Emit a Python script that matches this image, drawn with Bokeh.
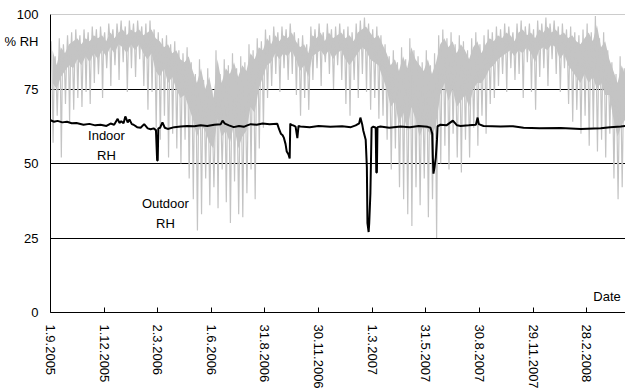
import numpy as np
from bokeh.plotting import figure
from bokeh.models import Range1d, FixedTicker, Label, Span
from bokeh.embed import file_html
from bokeh.resources import INLINE

# x axis: days since 1.9.2005
TICK_DAYS = [0, 91, 182, 273, 364, 455, 546, 637, 728, 819, 910]
TICK_LABELS = ["1.9.2005", "1.12.2005", "2.3.2006", "1.6.2006", "31.8.2006",
               "30.11.2006", "1.3.2007", "31.5.2007", "30.8.2007",
               "29.11.2007", "28.2.2008"]
Y_TICKS = [0, 25, 50, 75, 100]
Y_UNIT_POS = 91
Y_UNIT = "% RH"

# Outdoor RH: weekly highs, typical levels and lows (week 0 starts 1.9.2005)
OUT_HIGH = [91, 86, 92, 90, 93, 94, 95, 93, 95, 94,
            96, 95, 96, 94, 97, 95, 97, 98, 96, 98,
            97, 98, 96, 97, 98, 95, 94, 92, 93, 90,
            91, 88, 87, 89, 84, 80, 85, 78, 82, 75,
            88, 80, 85, 83, 87, 82, 86, 84, 90, 88,
            92, 91, 95, 93, 96, 94, 96, 95, 97, 94,
            92, 93, 90, 96, 95, 97, 94, 97, 95, 96,
            97, 95, 96, 94, 97, 98, 99, 97, 95, 96,
            93, 90, 86, 88, 84, 89, 85, 92, 88, 86,
            84, 88, 83, 87, 93, 95, 92, 94, 90, 93,
            91, 88, 92, 94, 90, 93, 95, 94, 96, 95,
            97, 96, 94, 97, 98, 96, 97, 95, 98, 97,
            99, 97, 98, 96, 97, 95, 96, 94, 93, 95,
            97, 94, 99.5, 92, 94, 88, 84, 80, 86, 82]
OUT_MID = [80, 78, 82, 84, 86, 85, 88, 86, 89, 87,
           90, 88, 91, 89, 92, 90, 93, 92, 90, 93,
           91, 93, 90, 88, 90, 84, 82, 85, 80, 82,
           78, 75, 76, 72, 68, 62, 66, 64, 60, 58,
           68, 62, 64, 60, 66, 58, 62, 64, 72, 70,
           78, 82, 86, 87, 90, 88, 90, 89, 91, 88,
           84, 86, 82, 89, 90, 91, 89, 91, 88, 90,
           91, 88, 86, 88, 90, 92, 91, 88, 87, 86,
           82, 78, 72, 74, 66, 70, 64, 72, 68, 62,
           66, 64, 62, 66, 76, 80, 74, 78, 72, 74,
           76, 72, 78, 80, 80, 82, 85, 86, 88, 89,
           90, 91, 89, 91, 90, 92, 90, 87, 91, 92,
           91, 93, 92, 88, 90, 86, 84, 82, 80, 83,
           80, 82, 78, 80, 76, 76, 68, 62, 66, 68]
OUT_LOW = [57, 66, 52, 70, 64, 68, 72, 69, 74, 70,
           77, 80, 72, 82, 76, 83, 78, 84, 74, 82,
           79, 85, 76, 68, 74, 62, 58, 66, 52, 60,
           55, 50, 58, 45, 38, 27.5, 33, 45, 36, 42,
           35, 48, 37, 30, 44, 33, 32, 40, 48, 38,
           55, 62, 72, 76, 80, 74, 82, 78, 80, 73,
           66, 72, 68, 78, 82, 76, 84, 80, 75, 83,
           78, 70, 66, 78, 72, 80, 74, 68, 72, 65,
           66, 58, 48, 55, 42, 38, 33, 29, 42, 36,
           45, 32, 38, 25, 50, 56, 48, 60, 52, 47,
           58, 52, 62, 56, 66, 60, 70, 72, 76, 80,
           74, 82, 78, 80, 72, 84, 74, 68, 79, 82,
           76, 85, 80, 74, 82, 70, 64, 68, 60, 66,
           56, 62, 54, 58, 52, 60, 45, 38, 42, 50]

# Indoor RH
IN_DAY = [0, 6, 12, 20, 28, 36, 44, 56, 66, 76, 85, 95, 102, 108, 114, 117, 120,
          124, 127, 131, 134, 138, 141, 147, 153, 159, 165, 170, 175, 179, 181,
          182, 183, 186, 190, 194, 199, 210, 221, 232, 244, 255, 266, 278, 289,
          292, 296, 303, 311, 320, 328, 334, 340, 350, 360, 372, 385, 388, 391,
          394, 396, 399, 401, 404, 406, 407, 408, 412, 416, 419, 421, 424, 440,
          455, 475, 495, 510, 518, 524, 526, 529, 531, 535, 537, 538, 540, 541,
          543, 545, 548, 552, 553, 554, 555, 560, 575, 594, 610, 625, 640, 645,
          648, 649, 650, 652, 654, 656, 657, 662, 672, 683, 690, 696, 710, 722,
          725, 727, 735, 764, 785, 803, 830, 866, 900, 934, 950, 968, 976]
IN_RH = [64.5, 64.0, 64.3, 63.8, 64.0, 63.5, 63.6, 63.0, 63.3, 62.8, 63.0, 62.6,
         63.4, 63.0, 65.0, 63.6, 64.2, 63.5, 65.8, 63.8, 64.8, 63.2, 63.0, 62.2,
         62.0, 63.2, 61.8, 61.5, 61.8, 61.2, 51.0, 51.0, 61.8, 62.0, 63.8, 62.0,
         61.6, 62.2, 62.4, 62.6, 62.5, 62.8, 62.6, 63.0, 63.2, 64.4, 63.4, 62.8,
         62.2, 62.6, 62.3, 62.8, 63.2, 63.0, 63.4, 63.2, 63.3, 61.5, 60.0, 59.5,
         58.7, 56.5, 54.0, 53.0, 51.7, 63.4, 63.0, 62.8, 62.4, 58.5, 62.6, 62.4,
         62.2, 62.6, 62.3, 62.5, 62.2, 62.8, 63.5, 65.4, 63.2, 61.0, 58.0, 48.7,
         30.0, 27.0, 30.0, 40.0, 62.0, 62.4, 62.0, 47.0, 47.0, 62.2, 62.4, 62.0,
         62.4, 62.2, 62.6, 62.3, 62.0, 60.0, 52.0, 46.6, 49.0, 52.0, 58.0, 62.5,
         63.0, 62.8, 64.4, 62.8, 62.6, 62.8, 63.0, 65.4, 63.2, 62.6, 62.4, 62.5,
         62.0, 61.8, 61.9, 61.6, 61.8, 62.2, 62.4, 62.6]

GRAY = "#c4c4c4"

# interleave weekly values into one trace: high, typical, low, typical
out_x, out_y = [], []
for w, (hi, mid, lo) in enumerate(zip(OUT_HIGH, OUT_MID, OUT_LOW)):
    out_x += [7 * w + 0.9, 7 * w + 2.6, 7 * w + 4.4, 7 * w + 6.1]
    out_y += [hi, mid, lo, mid]
week_x = [7 * w + 3.5 for w in range(len(OUT_MID))]

FONT = "Liberation Sans"

p = figure(width=625, height=392, x_range=Range1d(0, 976), y_range=Range1d(0, 100),
           output_backend="svg", toolbar_location=None,
           min_border_left=50, min_border_right=0, min_border_top=14, min_border_bottom=80)
p.outline_line_color = None
p.background_fill_color = "white"
p.border_fill_color = "white"

p.xgrid.visible = False
p.ygrid.ticker = FixedTicker(ticks=[25, 50, 75])
p.ygrid.grid_line_color = "black"
p.ygrid.grid_line_width = 1
p.add_layout(Span(location=100, dimension="width", line_color="#999999", line_width=1))

# dense core of the outdoor trace, then its spikes
p.varea(x=week_x, y1=[m - 3 for m in OUT_MID], y2=[h - 3 for h in OUT_HIGH],
        fill_color=GRAY, fill_alpha=1.0)
p.line(out_x, out_y, line_color=GRAY, line_width=1.2)
p.line(IN_DAY, IN_RH, line_color="black", line_width=2)

xa = p.xaxis[0]
xa.ticker = FixedTicker(ticks=TICK_DAYS)
xa.major_label_overrides = {d: s for d, s in zip(TICK_DAYS, TICK_LABELS)}
xa.major_label_orientation = "vertical"
xa.major_tick_in = 5
xa.major_tick_out = 0
xa.minor_tick_line_color = None
xa.axis_line_color = "black"
xa.major_tick_line_color = "black"
xa.major_label_standoff = 12
xa.major_label_text_font = FONT
xa.major_label_text_font_size = "13px"
xa.major_label_text_color = "black"

ya = p.yaxis[0]
ya.ticker = FixedTicker(ticks=Y_TICKS + [Y_UNIT_POS])
ya.major_label_overrides = {Y_UNIT_POS: Y_UNIT}
ya.major_tick_in = 0
ya.major_tick_out = 0
ya.major_tick_line_color = None
ya.minor_tick_line_color = None
ya.axis_line_color = "black"
ya.major_label_standoff = 12
ya.major_label_text_font = FONT
ya.major_label_text_font_size = "13px"
ya.major_label_text_color = "black"

def lab(x, y, t, align="center"):
    p.add_layout(Label(x=x, y=y, text=t, text_align=align, text_baseline="middle",
                       text_font=FONT, text_font_size="13px", text_color="black"))

lab(95, 59.4, "Indoor")
lab(95, 52.7, "RH")
lab(195, 36.6, "Outdoor")
lab(195, 29.9, "RH")
lab(968, 5.4, "Date", "right")

open("out.html", "w").write(file_html(p, INLINE))
